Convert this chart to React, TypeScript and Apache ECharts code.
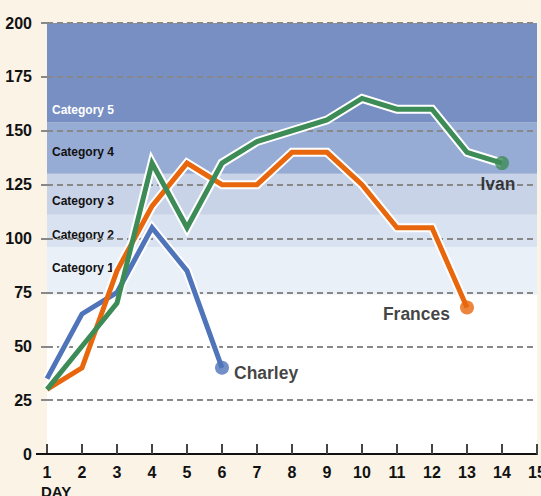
import React, { useEffect, useRef } from "react";
import * as echarts from "echarts";

const days = [1, 2, 3, 4, 5, 6, 7, 8, 9, 10, 11, 12, 13, 14];
const charley = [35, 65, 75, 105, 85, 40];
const frances = [30, 40, 85, 115, 135, 125, 125, 140, 140, 125, 105, 105, 68];
const ivan = [30, 50, 70, 135, 105, 135, 145, 150, 155, 165, 160, 160, 140, 135];

const categoryNames = ["Category 1", "Category 2", "Category 3", "Category 4", "Category 5"];
const categoryLow = [74, 96, 111, 130, 154];
const categoryHigh = [96, 111, 130, 154, 200];
const categoryColors = ["#eaf0f8", "#d9e2f0", "#c8d3e8", "#97acd5", "#778fc3"];
const categoryLabelColors = ["#111", "#111", "#111", "#111", "#fff"];
const categoryLabelOffset = [-3, 4, 7, 4, 37];

const yTicks = [0, 25, 50, 75, 100, 125, 150, 175, 200];

const FONT = "'Liberation Sans', Arial, sans-serif";

const storms = [
  { name: "Charley", values: charley, color: "#4f74b9", pos: "right", dist: 5, off: [0, 5] },
  { name: "Frances", values: frances, color: "#e8670c", pos: "left", dist: 10, off: [0, 7] },
  { name: "Ivan", values: ivan, color: "#3d8c57", pos: "bottom", dist: 5, off: [-4, 0] },
];

export default function App() {
  const ref = useRef<HTMLDivElement>(null);
  useEffect(() => {
    document.body.style.margin = "0";
    document.body.style.background = "#faf3e6";
    const chart = echarts.init(ref.current!, null, { renderer: "svg" });

    const bandData: any[] = categoryNames.map((n, i) => [
      {
        yAxis: categoryLow[i],
        name: n,
        itemStyle: { color: categoryColors[i] },
        label: { color: categoryLabelColors[i], offset: [0, categoryLabelOffset[i]] },
      },
      { yAxis: categoryHigh[i] },
    ]);
    bandData.unshift([{ yAxis: 0, name: "", itemStyle: { color: "#ffffff" } }, { yAxis: categoryLow[0] }]);

    const series: any[] = [
      {
        type: "line",
        name: "bands",
        z: 1,
        data: [],
        silent: true,
        markArea: {
          silent: true,
          label: {
            show: true,
            position: "insideLeft",
            distance: 5,
            fontFamily: FONT,
            fontWeight: "bold",
            fontSize: 12,
          },
          data: bandData,
        },
      },
    ];
    // white outlines below every coloured line
    storms.forEach((s) => {
      const d = s.values.map((v, i) => [days[i], v]);
      series.push({
        type: "line",
        name: s.name + "-outline",
        data: d,
        z: 3,
        symbol: "none",
        silent: true,
        lineStyle: { color: "#ffffff", width: 9, join: "miter" },
      });
    });
    storms.forEach((s, k) => {
      const d = s.values.map((v, i) => [days[i], v]);
      series.push({
        type: "line",
        name: s.name,
        data: d,
        z: 4 + k,
        symbol: "none",
        silent: true,
        lineStyle: { color: s.color, width: 5, join: "miter" },
      });
    });
    storms.forEach((s) => {
      const d = s.values.map((v, i) => [days[i], v]);
      series.push({
        type: "scatter",
        name: s.name + "-end",
        z: 8,
        symbol: "circle",
        symbolSize: 14,
        itemStyle: { color: s.color },
        data: [d[d.length - 1]],
        label: {
          show: true,
          formatter: s.name,
          position: s.pos,
          distance: s.dist,
          offset: s.off,
          color: "#111",
          fontFamily: FONT,
          fontWeight: "bold",
          fontSize: 17.5,
        },
      });
    });

    chart.setOption({
      animation: false,
      backgroundColor: "#faf3e6",
      grid: { left: 47, right: 4, top: 23, bottom: 42, containLabel: false, outerBoundsMode: "none" },
      xAxis: {
        type: "value",
        min: 1,
        max: 15,
        interval: 1,
        z: 9,
        axisLine: { show: true, lineStyle: { color: "#111", width: 2 } },
        axisTick: { show: true, inside: true, length: 10, lineStyle: { color: "#444", width: 2 } },
        axisLabel: {
          color: "#111",
          fontFamily: FONT,
          fontWeight: "bold",
          fontSize: 16,
          margin: 10,
          showMinLabel: true,
          showMaxLabel: true,
        },
        splitLine: { show: false },
      },
      yAxis: {
        type: "value",
        min: yTicks[0],
        max: yTicks[yTicks.length - 1],
        interval: 25,
        z: 2,
        axisLine: { show: false },
        axisTick: { show: true, length: 10, lineStyle: { color: "#888", width: 2, type: [6, 4] } },
        axisLabel: {
          color: "#111",
          fontFamily: FONT,
          fontWeight: "bold",
          fontSize: 16,
          margin: 15,
        },
        splitLine: { show: true, lineStyle: { color: "#888", width: 2, type: [6, 4] } },
      },
      graphic: [
        {
          type: "line",
          shape: { x1: 36, y1: 454, x2: 48, y2: 454 },
          style: { stroke: "#111", lineWidth: 2 },
          z: 10,
        },
        {
          type: "text",
          left: 41,
          top: 484,
          style: { text: "DAY", fill: "#111", font: "bold 15px " + FONT },
        },
      ],
      series,
    });
    return () => chart.dispose();
  }, []);
  return <div ref={ref} style={{ width: 541, height: 496, background: "#faf3e6" }} />;
}
